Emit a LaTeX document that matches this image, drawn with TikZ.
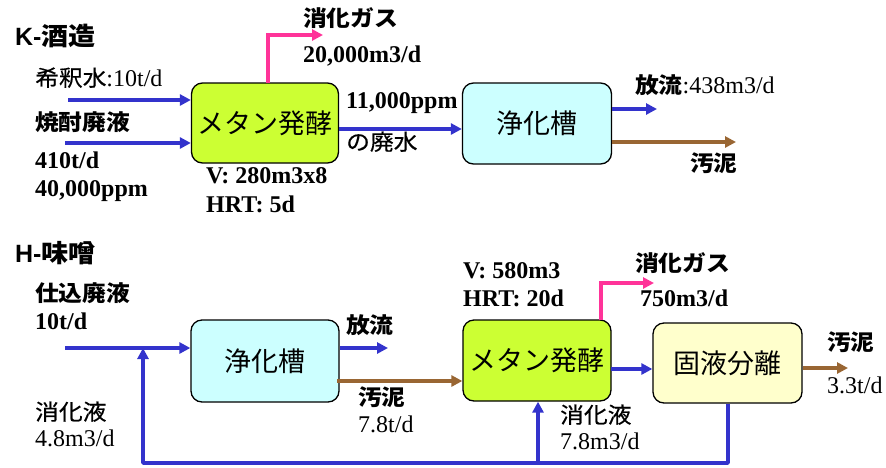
\documentclass[tikz,border=0pt]{standalone}
\usepackage{fontspec}
\setmainfont{Liberation Serif}
\setsansfont{Liberation Sans}
\newfontfamily\jpw[FakeStretch=1.08]{Noto Sans CJK JP}
\newfontfamily\jpm[FakeStretch=1.08,FakeBold=0.5]{Noto Sans CJK JP}
\newfontfamily\jpbox{Noto Sans CJK JP}
\newcommand\jl{\fontsize{22}{24}\selectfont\jpw}
\newcommand\jlm{\fontsize{22}{24}\selectfont\jpm}
\usetikzlibrary{arrows.meta,calc}
\definecolor{flowblue}{HTML}{3333CC}
\definecolor{gaspink}{HTML}{FF3399}
\definecolor{sludge}{HTML}{996633}
\definecolor{limefill}{HTML}{CCFF33}
\definecolor{cyanfill}{HTML}{CCFFFF}
\definecolor{yellowfill}{HTML}{FFFFCC}
\tikzset{
  procbox/.style={draw=black,line width=1.3pt,rounded corners=11pt,minimum width=147pt,minimum height=80pt,inner sep=0pt,font=\fontsize{27}{29}\selectfont\jpbox},
  lbl/.style={anchor=base west,inner sep=0pt,font=\fontsize{24}{26}\selectfont},
  blueflow/.style={draw=flowblue,line width=3.6pt,-{Triangle[length=11pt,width=11pt]}},
  blueline/.style={draw=flowblue,line width=3.6pt},
  pinkflow/.style={draw=gaspink,line width=3.6pt,-{Triangle[length=11pt,width=11pt]}},
  brownflow/.style={draw=sludge,line width=3.6pt,-{Triangle[length=11pt,width=11pt]}},
}
\begin{document}
\begin{tikzpicture}[x=1pt,y=-1pt]
\useasboundingbox (0,0) rectangle (886,467);
% ---------- K ----------
\node[lbl] (ktitle) at (15,45) {\fontsize{25}{27}\selectfont\sffamily\bfseries K-\jpw 酒造};
\node[procbox,fill=limefill] (meth1) at (265,123) {メタン発酵};
\node[procbox,fill=cyanfill,minimum width=149pt,minimum height=81pt] (purif1) at (537,123.5) {浄化槽};
\node[lbl] (dil) at (35,86) {{\jlm 希釈水}:10t/d};
\node[lbl] (shochu) at (35,130) {\jl\bfseries 焼酎廃液};
\node[lbl] (shochuA) at (35,168) {\bfseries 410t/d};
\node[lbl] (shochuB) at (35,196) {\bfseries 40,000ppm};
\node[lbl] (v1) at (206,183) {\bfseries V: 280m3x8};
\node[lbl] (h1) at (206,212) {\bfseries HRT: 5d};
\node[lbl] (gas1) at (303,26) {\jl\bfseries 消化ガス};
\node[lbl] (gas1v) at (303,62) {\bfseries 20,000m3/d};
\node[lbl] (ww1) at (346,108) {\bfseries 11,000ppm};
\node[lbl] (ww2) at (346,150) {\jlm の廃水};
\node[lbl] (dis1) at (635,93) {{\jl\bfseries 放流}:438m3/d};
\node[lbl] (sl1) at (690,171) {\jl\bfseries 汚泥};
\coordinate (dilS) at (68,100);
\coordinate (shS) at (65,143);
\coordinate (gas1S) at (268,83);
\coordinate (gas1E) at (323,35);
\coordinate (ww1S) at (339,129);
\coordinate (dis1E) at (657,109);
\coordinate (sl1E) at (736,142);
\draw[blueflow] (dilS) -- (dilS -| meth1.west);
\draw[blueflow] (shS) -- (shS -| meth1.west);
\draw[pinkflow] (gas1S) |- (gas1E);
\draw[blueflow] (ww1S) -- (ww1S -| purif1.west);
\draw[blueflow] (dis1E -| purif1.east) -- (dis1E);
\draw[brownflow] (sl1E -| purif1.east) -- (sl1E);
% ---------- H ----------
\node[lbl] (htitle) at (15,262) {\fontsize{25}{27}\selectfont\sffamily\bfseries H-\jpw 味噌};
\node[procbox,fill=cyanfill,minimum width=148pt,minimum height=82pt] (purif2) at (265,361) {浄化槽};
\node[procbox,fill=limefill,minimum width=148pt,minimum height=81pt] (meth2) at (537,360.5) {メタン発酵};
\node[procbox,fill=yellowfill,minimum width=149pt,minimum height=80pt] (sep) at (727.5,363) {固液分離};
\node[lbl] (shikomi) at (35,301) {\jl\bfseries 仕込廃液};
\node[lbl] (shikomiA) at (35,329) {\bfseries 10t/d};
\node[lbl] (dig1) at (35,420) {\jlm 消化液};
\node[lbl] (dig1v) at (35,446) {4.8m3/d};
\node[lbl] (dis2) at (346,333) {\jl\bfseries 放流};
\node[lbl] (sl2) at (358,405) {\jl\bfseries 汚泥};
\node[lbl] (sl2v) at (358,432) {7.8t/d};
\node[lbl] (v2) at (463,278) {\bfseries V: 580m3};
\node[lbl] (h2) at (463,306) {\bfseries HRT: 20d};
\node[lbl] (gas2) at (635,271) {\jl\bfseries 消化ガス};
\node[lbl] (gas2v) at (640,306) {\bfseries 750m3/d};
\node[lbl] (sl3) at (827,350) {\jl\bfseries 汚泥};
\node[lbl] (sl3v) at (827,393) {3.3t/d};
\node[lbl] (dig2) at (560,423) {\jlm 消化液};
\node[lbl] (dig2v) at (560,449) {7.8m3/d};
\coordinate (inS) at (65,348);
\coordinate (mergeP) at (143,348);
\coordinate (loopL) at (143,463);
\coordinate (loopM) at (538,463);
\coordinate (loopR) at (728,463);
\coordinate (dis2E) at (388,348);
\coordinate (sl2S) at (337,381);
\coordinate (gas2S) at (601,320);
\coordinate (gas2E) at (654,283);
\coordinate (dig2S) at (611,369);
\coordinate (sl3E) at (848,368);
\draw[blueflow] (inS) -- (inS -| purif2.west);
\draw[blueflow] (dis2E -| purif2.east) -- (dis2E);
\draw[brownflow] (sl2S) -- (sl2S -| meth2.west);
\draw[pinkflow] (gas2S) |- (gas2E);
\draw[blueflow] (dig2S) -- (dig2S -| sep.west);
\draw[brownflow] (sl3E -| sep.east) -- (sl3E);
\draw[blueline,line join=round] (sep.south -| loopR) -- (loopR) -- (loopL) -- (loopL |- 0,354);
\draw[blueflow] (loopL) -- (mergeP);
\draw[blueflow] (loopM) -- (loopM |- meth2.south);
\end{tikzpicture}
\end{document}
